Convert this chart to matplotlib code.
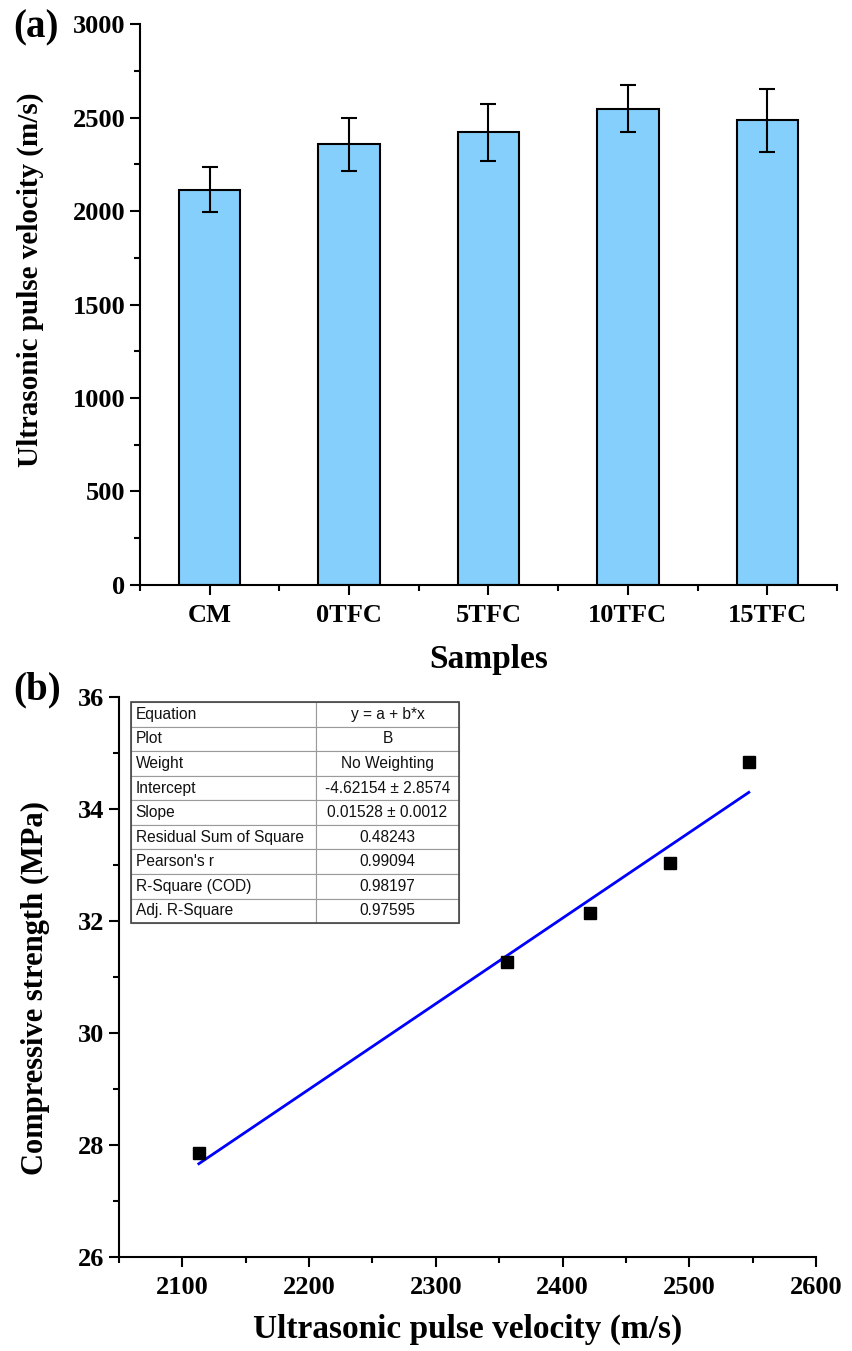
import numpy as np
import matplotlib
matplotlib.use('Agg')
import matplotlib.pyplot as plt
from matplotlib.ticker import MultipleLocator, FixedLocator

plt.rcParams['font.family'] = ['Liberation Serif', 'DejaVu Serif']
plt.rcParams['font.weight'] = 'bold'

# data (a)
samples = ['CM', '0TFC', '5TFC', '10TFC', '15TFC']
upv = [2113, 2356, 2422, 2547, 2485]
upv_err = [120, 143, 152, 127, 167]

# data (b)
upv_sorted = [2113, 2356, 2422, 2485, 2547]
strength = [27.86, 31.26, 32.14, 33.04, 34.83]
intercept = -4.62154
slope = 0.01528

table_rows = [
    ['Equation', 'y = a + b*x'],
    ['Plot', 'B'],
    ['Weight', 'No Weighting'],
    ['Intercept', '-4.62154 \u00b1 2.8574'],
    ['Slope', '0.01528 \u00b1 0.0012'],
    ['Residual Sum of Square', '0.48243'],
    ["Pearson's r", '0.99094'],
    ['R-Square (COD)', '0.98197'],
    ['Adj. R-Square', '0.97595'],
]

fig = plt.figure(figsize=(8.53, 13.51), dpi=100)

def style_axes(ax):
    for s in ['top', 'right']:
        ax.spines[s].set_visible(False)
    for s in ['left', 'bottom']:
        ax.spines[s].set_linewidth(1.5)
    ax.tick_params(which='major', direction='out', length=7, width=1.5, labelsize=19)
    ax.tick_params(which='minor', direction='out', length=4, width=1.5)
    for lab in ax.get_xticklabels() + ax.get_yticklabels():
        lab.set_fontweight('bold')

# ---- (a) bar chart
ax1 = fig.add_axes([0.1641, 0.567, 0.8171, 0.4152])
x = np.arange(len(samples))
ax1.bar(x, upv, width=0.44, color='#84CFFC', edgecolor='black', linewidth=1.5,
        yerr=upv_err, error_kw=dict(ecolor='black', elinewidth=1.5, capsize=6, capthick=1.5))
ax1.set_xlim(-0.5, 4.5)
ax1.set_ylim(0, 3000)
ax1.set_xticks(x)
ax1.set_xticklabels(samples)
ax1.xaxis.set_minor_locator(FixedLocator(np.arange(-0.5, 4.6, 1.0)))
ax1.yaxis.set_major_locator(MultipleLocator(500))
ax1.yaxis.set_minor_locator(MultipleLocator(250))
style_axes(ax1)
ax1.tick_params(axis='x', which='major', pad=7)
ax1.set_xlabel('Samples', fontsize=24, fontweight='bold', labelpad=12)
ax1.set_ylabel('Ultrasonic pulse velocity (m/s)', fontsize=21, fontweight='bold')
ax1.yaxis.set_label_coords(-0.137, 0.544)
fig.text(0.015, 0.979, '(a)', fontsize=28, fontweight='bold', va='center', ha='left')

# ---- (b) linear fit
ax2 = fig.add_axes([0.1395, 0.0696, 0.8171, 0.4145])
xfit = np.array([upv_sorted[0], upv_sorted[-1]])
ax2.plot(xfit, intercept + slope * xfit, color='#0000FF', linewidth=2.0, zorder=2)
ax2.plot(upv_sorted, strength, 's', color='black', markersize=8.5, zorder=3)
ax2.set_xlim(2050, 2600)
ax2.set_ylim(26, 36)
ax2.xaxis.set_major_locator(MultipleLocator(100))
ax2.xaxis.set_minor_locator(MultipleLocator(50))
ax2.yaxis.set_major_locator(MultipleLocator(2))
ax2.yaxis.set_minor_locator(MultipleLocator(1))
style_axes(ax2)
ax2.tick_params(axis='x', which='major', pad=7)
ax2.set_xlabel('Ultrasonic pulse velocity (m/s)', fontsize=24, fontweight='bold', labelpad=10)
ax2.set_ylabel('Compressive strength (MPa)', fontsize=22, fontweight='bold')
ax2.yaxis.set_label_coords(-0.099, 0.48)
fig.text(0.015, 0.489, '(b)', fontsize=28, fontweight='bold', va='center', ha='left')

tbl = ax2.table(cellText=table_rows, colWidths=[0.564, 0.436],
                bbox=[0.0172, 0.596, 0.4706, 0.395], cellLoc='left')
tbl.auto_set_font_size(False)
tbl.set_fontsize(11.2)
for (r, c), cell in tbl.get_celld().items():
    cell.set_edgecolor('#9a9a9a')
    cell.set_linewidth(0.8)
    cell.get_text().set_fontfamily('Liberation Sans')
    cell.get_text().set_fontweight('normal')
    cell.get_text().set_color('#111111')
    if c == 1:
        cell.get_text().set_horizontalalignment('center')
        cell._loc = 'center'
    else:
        cell.PAD = 0.025
# dark outer frame of the table
ax2.add_patch(plt.Rectangle((0.0172, 0.596), 0.4706, 0.395, transform=ax2.transAxes,
                            fill=False, edgecolor='#444444', linewidth=1.2, zorder=5))

fig.savefig('out.png', dpi=100)
